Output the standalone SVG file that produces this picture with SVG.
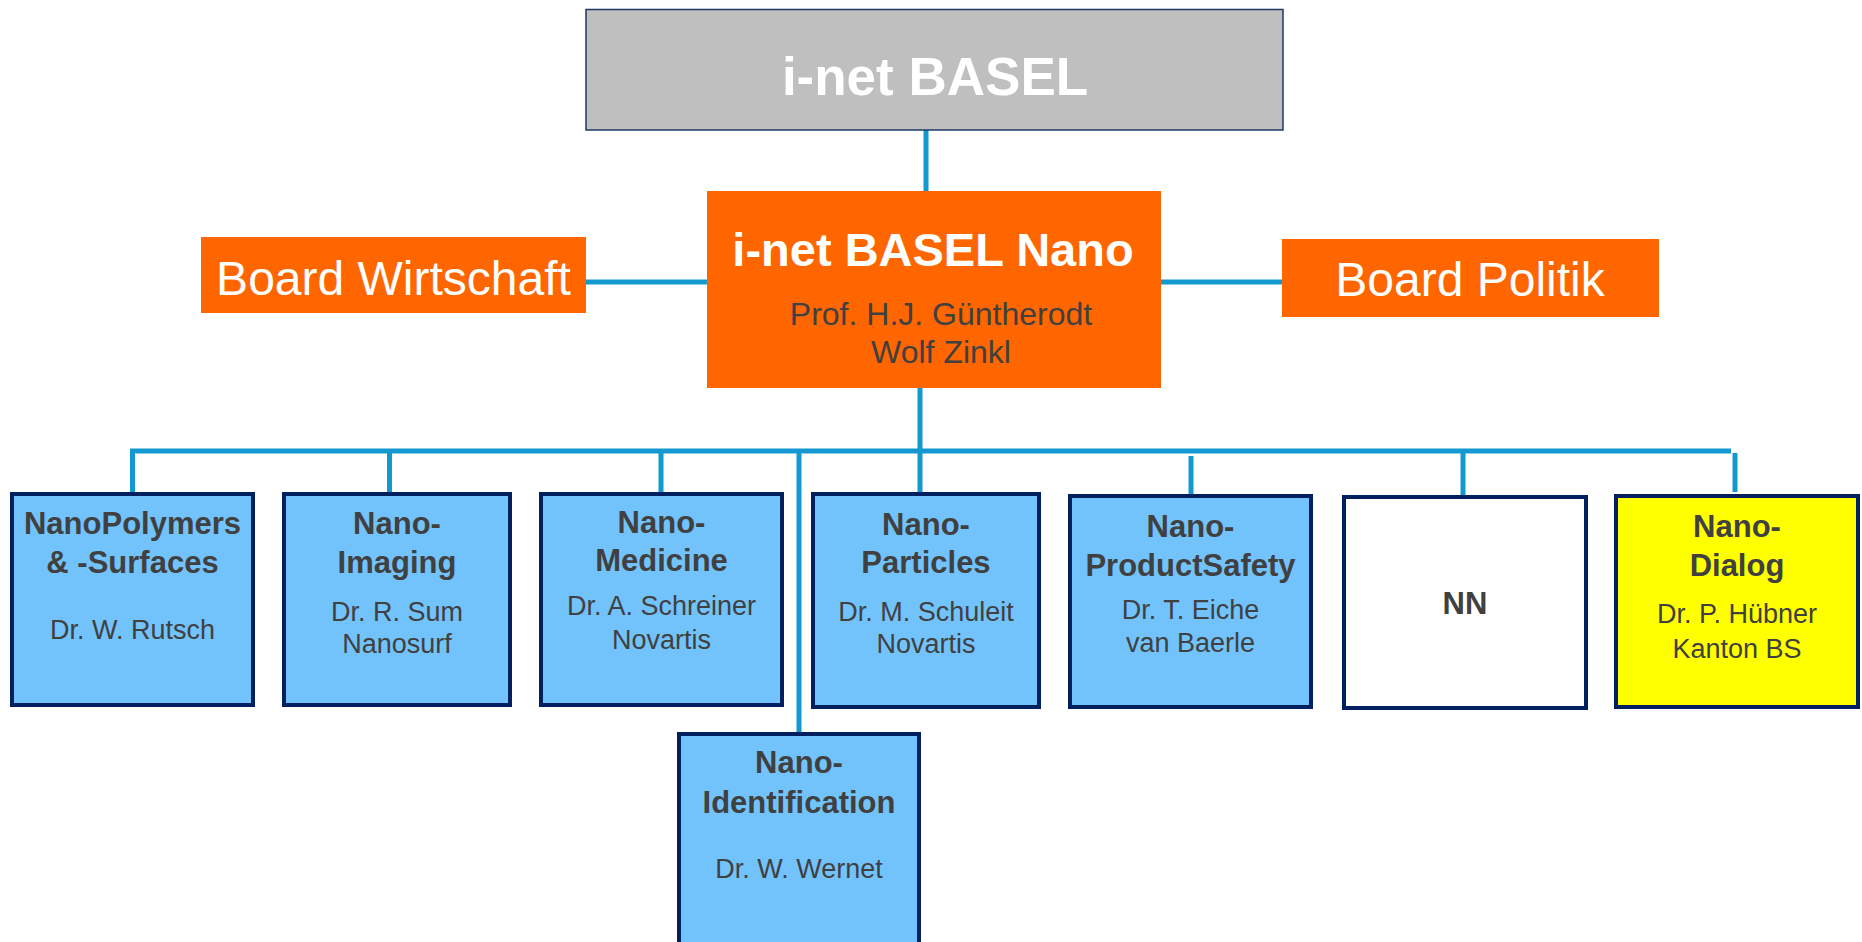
<svg xmlns="http://www.w3.org/2000/svg" width="1862" height="942" viewBox="0 0 1862 942">
<style>
.conn{stroke:#1399CF;stroke-width:5;fill:none}
.unit{stroke:#002060;stroke-width:4}
.blue{fill:#72C3FC}
.t{font-family:"Liberation Sans",Arial,sans-serif;text-anchor:middle;fill:#404040}
.b{font-weight:bold;font-size:31px}
.r{font-size:27px}
.w{fill:#FFFFFF}
</style>
<rect width="1862" height="942" fill="#FFFFFF"/>
<g id="connectors">
<path class="conn" d="M926 130V191"/>
<path class="conn" d="M586 282H707"/>
<path class="conn" d="M1161 282H1282"/>
<path class="conn" d="M920 388V492"/>
<path class="conn" d="M132.5 492V451H1731"/>
<path class="conn" d="M389.5 451V492"/>
<path class="conn" d="M661 451V492"/>
<path class="conn" d="M799 451V732"/>
<path class="conn" d="M1191 456V494"/>
<path class="conn" d="M1463 451V495"/>
<path class="conn" d="M1735 453V492"/>
</g>
<g id="inet-basel">
<rect x="586" y="9.5" width="697" height="120.5" fill="#BFBFBF" stroke="#1F3864" stroke-width="1.5"/>
<text class="t w" x="935" y="95" font-size="53" font-weight="bold">i-net BASEL</text>
</g>
<g id="inet-basel-nano">
<rect x="707" y="191" width="454" height="197" fill="#FF6600"/>
<text class="t w" x="933" y="266" font-size="47" font-weight="bold">i-net BASEL Nano</text>
<text class="t" x="941" y="325" font-size="32">Prof. H.J. Güntherodt</text>
<text class="t" x="941" y="363" font-size="32">Wolf Zinkl</text>
</g>
<g id="board-wirtschaft">
<rect x="201" y="237" width="385" height="76" fill="#FF6600"/>
<text class="t w" x="393.5" y="294.5" font-size="48">Board Wirtschaft</text>
</g>
<g id="board-politik">
<rect x="1282" y="239" width="377" height="78" fill="#FF6600"/>
<text class="t w" x="1470" y="296" font-size="48">Board Politik</text>
</g>
<g id="nanopolymers">
<rect class="unit blue" x="12" y="494" width="241" height="211"/>
<text class="t b" x="132.5" y="534">NanoPolymers</text>
<text class="t b" x="132.5" y="572.5">&amp; -Surfaces</text>
<text class="t r" x="132.5" y="639">Dr. W. Rutsch</text>
</g>
<g id="nano-imaging">
<rect class="unit blue" x="284" y="494" width="226" height="211"/>
<text class="t b" x="397" y="534">Nano-</text>
<text class="t b" x="397" y="572.5">Imaging</text>
<text class="t r" x="397" y="620.5">Dr. R. Sum</text>
<text class="t r" x="397" y="652.5">Nanosurf</text>
</g>
<g id="nano-medicine">
<rect class="unit blue" x="541" y="494" width="241" height="211"/>
<text class="t b" x="661.5" y="533">Nano-</text>
<text class="t b" x="661.5" y="571">Medicine</text>
<text class="t r" x="661.5" y="615">Dr. A. Schreiner</text>
<text class="t r" x="661.5" y="649">Novartis</text>
</g>
<g id="nano-particles">
<rect class="unit blue" x="813" y="494" width="226" height="213"/>
<text class="t b" x="926" y="535">Nano-</text>
<text class="t b" x="926" y="572.5">Particles</text>
<text class="t r" x="926" y="621">Dr. M. Schuleit</text>
<text class="t r" x="926" y="653">Novartis</text>
</g>
<g id="nano-productsafety">
<rect class="unit blue" x="1070" y="496" width="241" height="211"/>
<text class="t b" x="1190.5" y="536.5">Nano-</text>
<text class="t b" x="1190.5" y="575.5">ProductSafety</text>
<text class="t r" x="1190.5" y="619">Dr. T. Eiche</text>
<text class="t r" x="1190.5" y="652">van Baerle</text>
</g>
<g id="nn">
<rect class="unit" x="1344" y="497" width="242" height="211" fill="#FFFFFF"/>
<text class="t b" x="1465" y="614">NN</text>
</g>
<g id="nano-dialog">
<rect class="unit" x="1616" y="496" width="242" height="211" fill="#FFFF00"/>
<text class="t b" x="1737" y="536.5">Nano-</text>
<text class="t b" x="1737" y="576">Dialog</text>
<text class="t r" x="1737" y="622.5">Dr. P. Hübner</text>
<text class="t r" x="1737" y="657.5">Kanton BS</text>
</g>
<g id="nano-identification">
<rect class="unit blue" x="679" y="734" width="240" height="222"/>
<text class="t b" x="799" y="773">Nano-</text>
<text class="t b" x="799" y="812.5">Identification</text>
<text class="t r" x="799" y="878">Dr. W. Wernet</text>
</g>
</svg>
